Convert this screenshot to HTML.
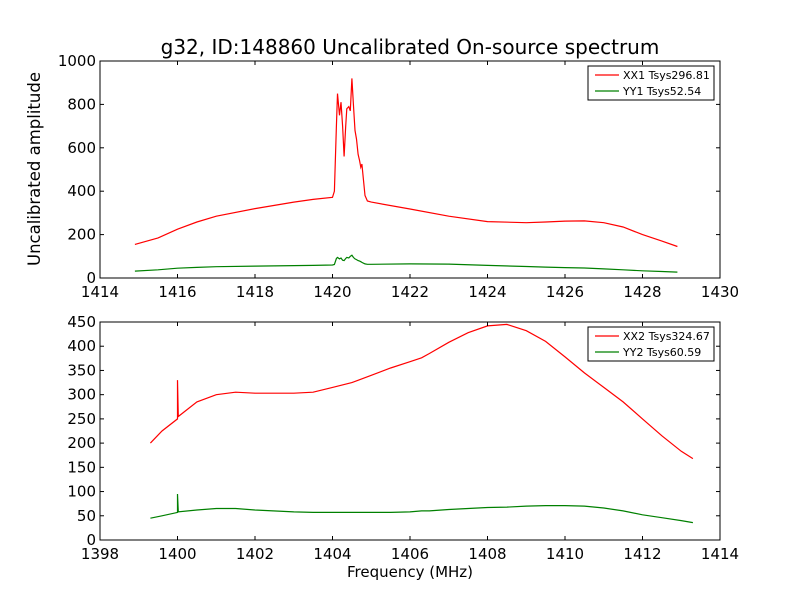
<!DOCTYPE html>
<html><head><meta charset="utf-8">
<style>
body{margin:0;background:#fff;}
svg{display:block;font-family:"DejaVu Sans","Liberation Sans",sans-serif;}
</style></head>
<body>
<svg id="c" width="800" height="600"></svg>
<script>
// Top chart data
const fTop=[1414.9,1415.5,1416,1416.5,1417,1418,1419,1419.5,1420,1420.05,1420.1,1420.13,1420.18,1420.22,1420.26,1420.3,1420.34,1420.37,1420.42,1420.46,1420.5,1420.54,1420.58,1420.62,1420.66,1420.7,1420.73,1420.76,1420.8,1420.84,1420.9,1421,1422,1423,1424,1425,1425.5,1426,1426.5,1427,1427.5,1428,1428.5,1428.9];
const xx1=[155,185,225,258,285,320,350,362,372,400,700,850,750,810,700,560,700,780,790,770,920,800,680,640,570,540,510,525,450,380,355,350,318,285,260,255,258,262,263,255,235,200,170,145];
const yy1=[32,38,45,49,52,55,57,58,60,62,90,95,88,92,82,80,90,95,92,100,105,95,88,85,80,78,75,72,68,65,63,63,65,64,58,53,50,48,46,42,38,33,30,27];
const topTicksX=[1414,1416,1418,1420,1422,1424,1426,1428,1430];
const topTicksY=[0,200,400,600,800,1000];
// Bottom chart data
const fBot=[1399.3,1399.6,1400,1400.001,1400.02,1400.5,1401,1401.5,1402,1403,1403.5,1404,1404.5,1405,1405.5,1406,1406.3,1406.5,1407,1407.5,1408,1408.5,1409,1409.5,1410,1410.5,1411,1411.5,1412,1412.5,1413,1413.3];
const xx2=[200,225,250,330,255,285,300,305,303,303,305,315,325,340,355,368,376,385,408,428,442,445,432,410,378,345,315,285,250,215,183,168];
const yy2=[45,50,57,95,58,62,65,65,62,58,57,57,57,57,57,58,60,60,63,65,67,68,70,71,71,70,66,60,52,46,40,36];
const botTicksX=[1398,1400,1402,1404,1406,1408,1410,1412,1414];
const botTicksY=[0,50,100,150,200,250,300,350,400,450];

const NS="http://www.w3.org/2000/svg";
const svg=document.getElementById('c');
function mk(t,a,p){const e=document.createElementNS(NS,t);for(const k in a)e.setAttribute(k,a[k]);(p||svg).appendChild(e);return e;}

function panel(name,box,xmin,xmax,ymin,ymax,xt,yt,f,s1,s2,leg){
  const g=mk('g',{});
  
  
  const X=v=>box.x+(v-xmin)/(xmax-xmin)*box.w;
  const Y=v=>box.y+box.h-(v-ymin)/(ymax-ymin)*box.h;
  const ser=[[s1,'#ff0000'],[s2,'#008000']];
  ser.forEach(([d,c],i)=>{
    const p=mk('path',{d:d.map((v,j)=>(j?'L':'M')+X(f[j]).toFixed(1)+','+Y(v).toFixed(1)).join(''),fill:'none',stroke:c,'stroke-width':1.2},g);
    
    
  });
  const fr=mk('rect',{x:box.x,y:box.y,width:box.w,height:box.h,fill:'none',stroke:'#000','stroke-width':1},g);
  
  
  xt.forEach(v=>{
    mk('line',{x1:X(v),x2:X(v),y1:box.y+box.h,y2:box.y+box.h-4,stroke:'#000'},g);
    mk('line',{x1:X(v),x2:X(v),y1:box.y,y2:box.y+4,stroke:'#000'},g);
    const t=mk('text',{x:X(v),y:box.y+box.h+19,'text-anchor':'middle','font-size':15},g);t.textContent=v;
    
    
  });
  yt.forEach(v=>{
    mk('line',{x1:box.x,x2:box.x+4,y1:Y(v),y2:Y(v),stroke:'#000'},g);
    mk('line',{x1:box.x+box.w,x2:box.x+box.w-4,y1:Y(v),y2:Y(v),stroke:'#000'},g);
    const t=mk('text',{x:box.x-4,y:Y(v)+5,'text-anchor':'end','font-size':15},g);t.textContent=v;
    
    
  });
  const lg=mk('g',{},g);
  
  
  mk('rect',{x:leg.lx,y:leg.ly,width:126,height:34,fill:'#fff',stroke:'#000'},lg);
  leg.forEach((l,i)=>{
    const yy=leg.ly+9+i*16;
    mk('line',{x1:leg.lx+7,x2:leg.lx+31,y1:yy,y2:yy,stroke:ser[i][1],'stroke-width':1.2},lg);
    const t=mk('text',{x:leg.lx+35,y:yy+4,'font-size':11},lg);t.textContent=l[1];
    
    
  });
}
const l1=[['xx1','XX1 Tsys296.81'],['yy1','YY1 Tsys52.54']];l1.lx=588;l1.ly=66;
const l2=[['xx2','XX2 Tsys324.67'],['yy2','YY2 Tsys60.59']];l2.lx=588;l2.ly=327;
panel('top-chart',{x:100,y:61,w:620,h:217},1414,1430,0,1000,topTicksX,topTicksY,fTop,xx1,yy1,l1);
panel('bottom-chart',{x:100,y:322,w:620,h:218},1398,1414,0,450,botTicksX,botTicksY,fBot,xx2,yy2,l2);

let t=mk('text',{x:410,y:54,'text-anchor':'middle','font-size':20});t.textContent='g32, ID:148860 Uncalibrated On-source spectrum';


t=mk('text',{x:0,y:0,'text-anchor':'middle','font-size':16.5,transform:'translate(40,169) rotate(-90)'});t.textContent='Uncalibrated amplitude';


t=mk('text',{x:410,y:577,'text-anchor':'middle','font-size':15});t.textContent='Frequency (MHz)';


</script>
</body></html>
